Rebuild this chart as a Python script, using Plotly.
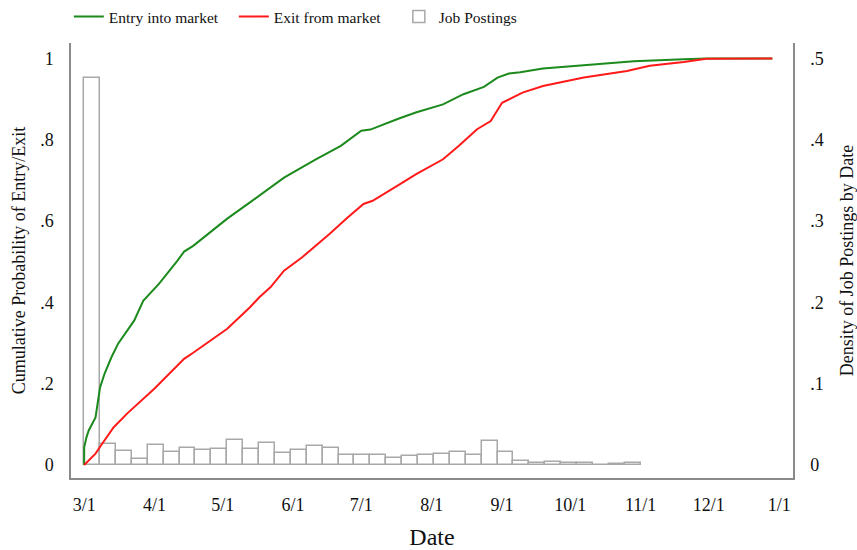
import plotly.graph_objects as go

# Cumulative share of firms that have entered the market, by date
entry_dates = [
    "2020-03-01", "2020-03-01", "2020-03-02", "2020-03-03", "2020-03-06", "2020-03-07",
    "2020-03-08", "2020-03-10", "2020-03-13", "2020-03-16", "2020-03-19", "2020-03-23",
    "2020-03-27", "2020-04-03", "2020-04-11", "2020-04-14", "2020-04-18", "2020-05-03",
    "2020-05-13", "2020-05-17", "2020-05-28", "2020-06-11", "2020-06-22", "2020-07-01",
    "2020-07-05", "2020-07-17", "2020-07-25", "2020-08-06", "2020-08-15", "2020-08-24",
    "2020-08-30", "2020-09-04", "2020-09-09", "2020-09-19", "2020-10-07", "2020-10-29",
    "2020-11-20", "2020-11-30", "2020-12-29",
]
entry_cdf = [
    0.0, 0.043, 0.068, 0.085, 0.117, 0.158,
    0.191, 0.225, 0.265, 0.299, 0.323, 0.355,
    0.404, 0.446, 0.502, 0.525, 0.539, 0.606,
    0.646, 0.662, 0.707, 0.752, 0.785, 0.822,
    0.825, 0.851, 0.867, 0.887, 0.912, 0.930,
    0.953, 0.963, 0.966, 0.975, 0.983, 0.993,
    0.998, 1.0, 1.0,
]

# Cumulative share of firms that have exited the market, by date
exit_dates = [
    "2020-03-01", "2020-03-06", "2020-03-09", "2020-03-14", "2020-03-20", "2020-03-26",
    "2020-04-01", "2020-04-14", "2020-04-18", "2020-05-03", "2020-05-13", "2020-05-17",
    "2020-05-22", "2020-05-28", "2020-06-05", "2020-06-17", "2020-06-25", "2020-07-02",
    "2020-07-06", "2020-07-17", "2020-07-25", "2020-08-06", "2020-08-13", "2020-08-21",
    "2020-08-27", "2020-09-01", "2020-09-06", "2020-09-09", "2020-09-10", "2020-09-19",
    "2020-10-07", "2020-10-26", "2020-11-05", "2020-11-20", "2020-11-30", "2020-12-29",
]
exit_cdf = [
    0.0, 0.028, 0.053, 0.093, 0.127, 0.158,
    0.188, 0.261, 0.276, 0.335, 0.388, 0.412,
    0.437, 0.478, 0.511, 0.568, 0.609, 0.642,
    0.650, 0.687, 0.715, 0.752, 0.785, 0.826,
    0.846, 0.891, 0.904, 0.912, 0.916, 0.932,
    0.953, 0.969, 0.982, 0.991, 0.999, 1.0,
]

# Weekly histogram of job postings (bin start dates and density)
week_starts = [
    "2020-03-01", "2020-03-08", "2020-03-15", "2020-03-22", "2020-03-29",
    "2020-04-05", "2020-04-12", "2020-04-19", "2020-04-26", "2020-05-03",
    "2020-05-10", "2020-05-17", "2020-05-24", "2020-05-31", "2020-06-07",
    "2020-06-14", "2020-06-21", "2020-06-28", "2020-07-05", "2020-07-12",
    "2020-07-19", "2020-07-26", "2020-08-02", "2020-08-09", "2020-08-16",
    "2020-08-23", "2020-08-30", "2020-09-06", "2020-09-13", "2020-09-20",
    "2020-09-27", "2020-10-04", "2020-10-11", "2020-10-18", "2020-10-25",
]
posting_density = [
    0.476, 0.026, 0.0176, 0.007, 0.0246,
    0.0164, 0.021, 0.0185, 0.0197, 0.0312,
    0.020, 0.0267, 0.0148, 0.0185, 0.023,
    0.0205, 0.0127, 0.0123, 0.0123, 0.0086,
    0.011, 0.0123, 0.014, 0.016, 0.0123,
    0.030, 0.0156, 0.0045, 0.0025, 0.0037,
    0.0029, 0.002, 0.0005, 0.0008, 0.002,
]

# Axis ticks
month_ticks = ["2020-03-01", "2020-04-01", "2020-05-01", "2020-06-01", "2020-07-01",
               "2020-08-01", "2020-09-01", "2020-10-01", "2020-11-01", "2020-12-01",
               "2021-01-01"]
month_labels = ["3/1", "4/1", "5/1", "6/1", "7/1", "8/1", "9/1", "10/1", "11/1", "12/1", "1/1"]
prob_ticks = [0, 0.2, 0.4, 0.6, 0.8, 1]
prob_labels = ["0", ".2", ".4", ".6", ".8", "1"]
dens_ticks = [0, 0.1, 0.2, 0.3, 0.4, 0.5]
dens_labels = ["0", ".1", ".2", ".3", ".4", ".5"]

SERIF = "Liberation Serif, Times New Roman, serif"
AXIS_GREY = "#8a8a8a"
WEEK_MS = 7 * 24 * 3600 * 1000

fig = go.Figure()

# Histogram sits on the base axis so the CDF lines are drawn above it
fig.add_trace(go.Bar(
    x=week_starts, y=posting_density, width=WEEK_MS, offset=0,
    marker=dict(color="white", line=dict(color="#a8a8a8", width=1.5)),
    name="Job Postings", yaxis="y", legendrank=3,
))
fig.add_trace(go.Scatter(
    x=entry_dates, y=entry_cdf, mode="lines",
    line=dict(color="#1c8a1c", width=2), name="Entry into market",
    yaxis="y2", legendrank=1,
))
fig.add_trace(go.Scatter(
    x=exit_dates, y=exit_cdf, mode="lines",
    line=dict(color="#ff1a1a", width=2), name="Exit from market",
    yaxis="y2", legendrank=2,
))

fig.update_layout(
    width=857, height=550,
    margin=dict(l=71, r=64, t=43, b=72, autoexpand=False),
    paper_bgcolor="white", plot_bgcolor="white",
    font=dict(family=SERIF, size=18, color="#111111"),
    bargap=0,
    showlegend=True,
    legend=dict(
        orientation="h", x=-0.003, xanchor="left", y=1.06, yanchor="middle",
        font=dict(size=15.5), entrywidth=120, entrywidthmode="pixels",
        bgcolor="rgba(0,0,0,0)", traceorder="normal",
    ),
    xaxis=dict(
        type="date",
        range=["2020-02-24 04:48", "2021-01-07 02:24"],
        tickvals=month_ticks, ticktext=month_labels,
        showline=True, linecolor=AXIS_GREY, linewidth=1.5,
        showgrid=False, zeroline=False,
        ticks="outside", ticklen=10, tickcolor="rgba(0,0,0,0)",
        title=dict(text="Date", font=dict(size=24), standoff=16),
    ),
    yaxis=dict(
        side="right", range=[-0.016, 0.519],
        tickvals=dens_ticks, ticktext=dens_labels,
        showline=True, linecolor=AXIS_GREY, linewidth=1.5,
        showgrid=False, zeroline=False,
        ticks="outside", ticklen=12, tickcolor="rgba(0,0,0,0)",
        title=dict(text="Density of Job Postings by Date", font=dict(size=18), standoff=18),
    ),
    yaxis2=dict(
        overlaying="y", side="left", range=[-0.032, 1.038],
        tickvals=prob_ticks, ticktext=prob_labels,
        showline=True, linecolor=AXIS_GREY, linewidth=1.5,
        showgrid=False, zeroline=False,
        ticks="outside", ticklen=12, tickcolor="rgba(0,0,0,0)",
        title=dict(text="Cumulative Probability of Entry/Exit", font=dict(size=18), standoff=10),
    ),
)

fig.write_html("out.html")
